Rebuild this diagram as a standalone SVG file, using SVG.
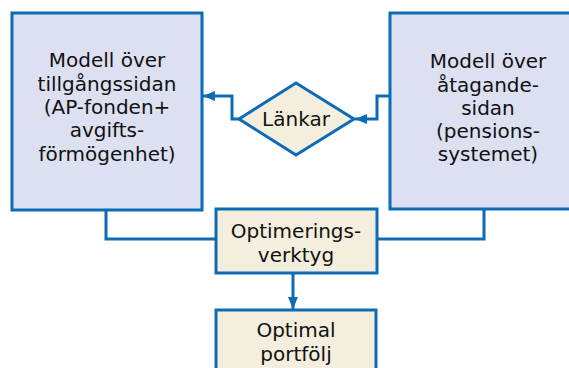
<svg xmlns="http://www.w3.org/2000/svg" width="569" height="368" viewBox="0 0 569 368">
  <style>
    .model { fill: #dde0f1; stroke: #0b6cb5; stroke-width: 3; }
    .tool { fill: #f3eedd; stroke: #0b6cb5; stroke-width: 3; }
    .wire { fill: none; stroke: #0b6cb5; stroke-width: 3; }
    text { font-family: "DejaVu Sans", "Liberation Sans", sans-serif; font-size: 20px; fill: #111; text-anchor: middle; }
  </style>
  <defs>
    <marker id="arrow" viewBox="0 0 12 10" refX="12" refY="5" markerWidth="12" markerHeight="10" markerUnits="userSpaceOnUse" orient="auto">
      <path d="M0,0 L12,5 L0,10 Z" fill="#0b6cb5"/>
    </marker>
  </defs>

  <g id="connectors">
    <!-- Länkar to asset model -->
    <path class="wire" d="M239,119 H232 V96 H203" marker-end="url(#arrow)"/>
    <!-- liability model to Länkar -->
    <path class="wire" d="M390,96 H377 V119 H355" marker-end="url(#arrow)"/>
    <!-- both models into the optimiser -->
    <path class="wire" d="M106,210 V239 H216"/>
    <path class="wire" d="M484,209 V239 H377"/>
    <!-- optimiser to optimal portfolio -->
    <path class="wire" d="M293,273 V309" marker-end="url(#arrow)"/>
  </g>

  <g id="asset-model">
    <rect class="model" x="12" y="13" width="190" height="197"/>
    <text x="107" y="67">Modell över</text>
    <text x="107" y="91">tillgångssidan</text>
    <text x="107" y="114">(AP-fonden+</text>
    <text x="107" y="137">avgifts-</text>
    <text x="107" y="161">förmögenhet)</text>
  </g>

  <g id="liability-model">
    <rect class="model" x="390" y="13" width="190" height="196"/>
    <text x="488" y="68">Modell över</text>
    <text x="488" y="92">åtagande-</text>
    <text x="488" y="115">sidan</text>
    <text x="488" y="138">(pensions-</text>
    <text x="488" y="161">systemet)</text>
  </g>

  <g id="links">
    <polygon class="tool" points="296,83 354,119 296,155 239,119"/>
    <text x="296" y="126">Länkar</text>
  </g>

  <g id="optimiser">
    <rect class="tool" x="216" y="209" width="161" height="64"/>
    <text x="296" y="238">Optimerings-</text>
    <text x="296" y="262">verktyg</text>
  </g>

  <g id="optimal-portfolio">
    <rect class="tool" x="216" y="310" width="160" height="70"/>
    <text x="296" y="337">Optimal</text>
    <text x="296" y="361">portfölj</text>
  </g>
</svg>
